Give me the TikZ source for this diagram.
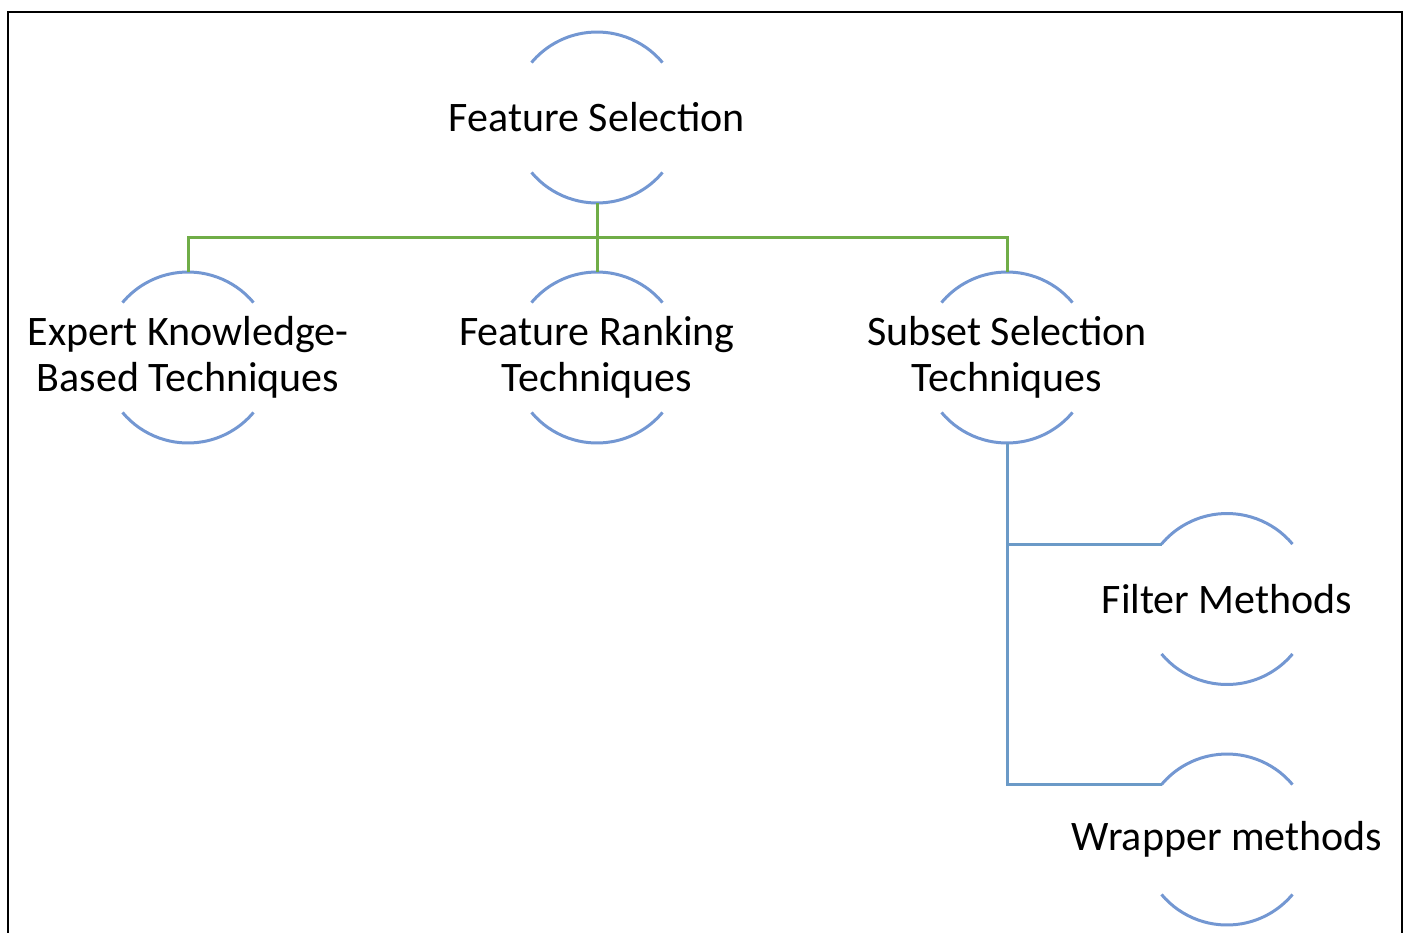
\documentclass[tikz,border=0pt]{standalone}
\usepackage{fontspec}
\setmainfont{Carlito}
\usepackage{xcolor}
\definecolor{cArc}{HTML}{7397D2}
\definecolor{cGreen}{HTML}{70AD47}
\definecolor{cSteel}{HTML}{6B9AC7}
\usepackage{tikz}
\usetikzlibrary{positioning,calc}
\tikzset{
  node-topic/.style={circle,draw=none,inner sep=0pt,outer sep=0pt,
    minimum size=171pt},
  topic-text/.style={align=center,inner sep=0pt,
    font=\fontsize{42}{46}\selectfont},
  arc-line/.style={draw=cArc,line width=3pt},
  link-green/.style={draw=cGreen,line width=3pt},
  link-steel/.style={draw=cSteel,line width=3pt},
  frame-line/.style={draw=black,line width=1.6pt},
}

\begin{document}
\begin{tikzpicture}[x=1pt,y=1pt]
  \useasboundingbox (0,0) rectangle (1407,-932);
  \draw[frame-line] (8,-940) -- (8,-12) -- (1402,-12) -- (1402,-940);

  \node[node-topic,label={[topic-text]center:Feature Selection}] at (597,-117.5) (fs) {};
  \node[node-topic,label={[topic-text]center:Expert Knowledge-\\Based Techniques}] at (188,-357.5) (expert) {};
  \node[node-topic,label={[topic-text]center:Feature Ranking\\Techniques}] at (597,-357.5) (ranking) {};
  \node[node-topic,label={[topic-text]center:Subset Selection\\Techniques}] at (1007,-357.5) (subset) {};
  \node[node-topic,label={[topic-text]center:Filter Methods}] at (1227,-599) (filter) {};
  \node[node-topic,label={[topic-text]center:Wrapper methods}] at (1227,-839.5) (wrapper) {};

  % open circles: only top and bottom arcs
  \foreach \n in {fs,expert,ranking,subset,filter,wrapper} {
    \draw[arc-line] (\n.40) arc[start angle=40,end angle=140,radius=85.5pt];
    \draw[arc-line] (\n.220) arc[start angle=220,end angle=320,radius=85.5pt];
  }

  \coordinate (bus) at ($(fs.south)+(0,-34.5)$);
  \draw[link-green] (fs.south) -- (bus) -| (expert.north);
  \draw[link-green] (bus) -- (ranking.north);
  \draw[link-green] (bus) -| (subset.north);

  \draw[link-steel] (subset.south) |- (filter.140);
  \draw[link-steel] (subset.south) |- (wrapper.140);
\end{tikzpicture}
\end{document}
